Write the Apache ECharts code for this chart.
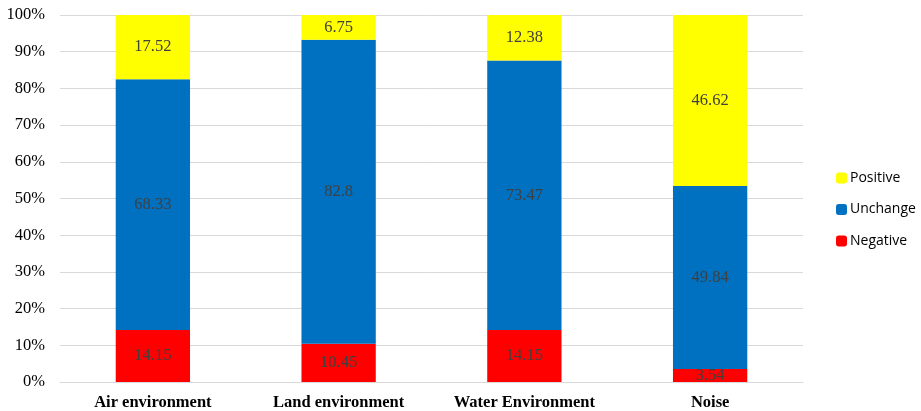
<!DOCTYPE html>
<html><head><meta charset="utf-8">
<script src="https://cdn.jsdelivr.net/npm/echarts@6/dist/echarts.min.js"></script>
<style>html,body{margin:0;padding:0;background:#fff}#c{width:921px;height:411px}</style>
</head><body><div id="c"></div>
<script>
const categories = ['Air environment', 'Land environment', 'Water Environment', 'Noise'];
const negative = [14.15, 10.45, 14.15, 3.54];
const unchange = [68.33, 82.8, 73.47, 49.84];
const positive = [17.52, 6.75, 12.38, 46.62];
const yTicks = [0, 10, 20, 30, 40, 50, 60, 70, 80, 90, 100];

const chart = echarts.init(document.getElementById('c'));
const lbl = {show: true, position: 'inside', color: '#404040', fontFamily: 'Liberation Serif', fontSize: 16.5};
function mk(name, data, color) {
  return {name, type: 'bar', stack: 't', data, barWidth: '40%', itemStyle: {color}, label: lbl, emphasis: {disabled: true}};
}
chart.setOption({
  animation: false,
  grid: {left: 60, right: 118, top: 15, bottom: 29},
  legend: {
    orient: 'vertical', left: 831, top: 166, itemWidth: 11, itemHeight: 11, itemGap: 17.5,
    data: ['Positive', 'Unchange', 'Negative'],
    textStyle: {fontFamily: 'Open Sans', fontSize: 14, color: '#000', padding: [0, 0, 0, -2]}
  },
  xAxis: {
    type: 'category', data: categories,
    axisLine: {lineStyle: {color: '#d9d9d9'}}, axisTick: {show: false},
    axisLabel: {color: '#000', fontFamily: 'Liberation Serif', fontWeight: 'bold', fontSize: 16.5, margin: 12}
  },
  yAxis: {
    type: 'value', min: yTicks[0], max: yTicks[yTicks.length - 1], interval: 10,
    axisLabel: {formatter: '{value}%', color: '#000', fontFamily: 'Liberation Serif', fontSize: 16.5, margin: 15},
    splitLine: {lineStyle: {color: '#d9d9d9'}}, axisLine: {show: false}, axisTick: {show: false}
  },
  series: [
    mk('Negative', negative, '#ff0000'),
    mk('Unchange', unchange, '#0070c0'),
    mk('Positive', positive, '#ffff00')
  ]
});
</script></body></html>
